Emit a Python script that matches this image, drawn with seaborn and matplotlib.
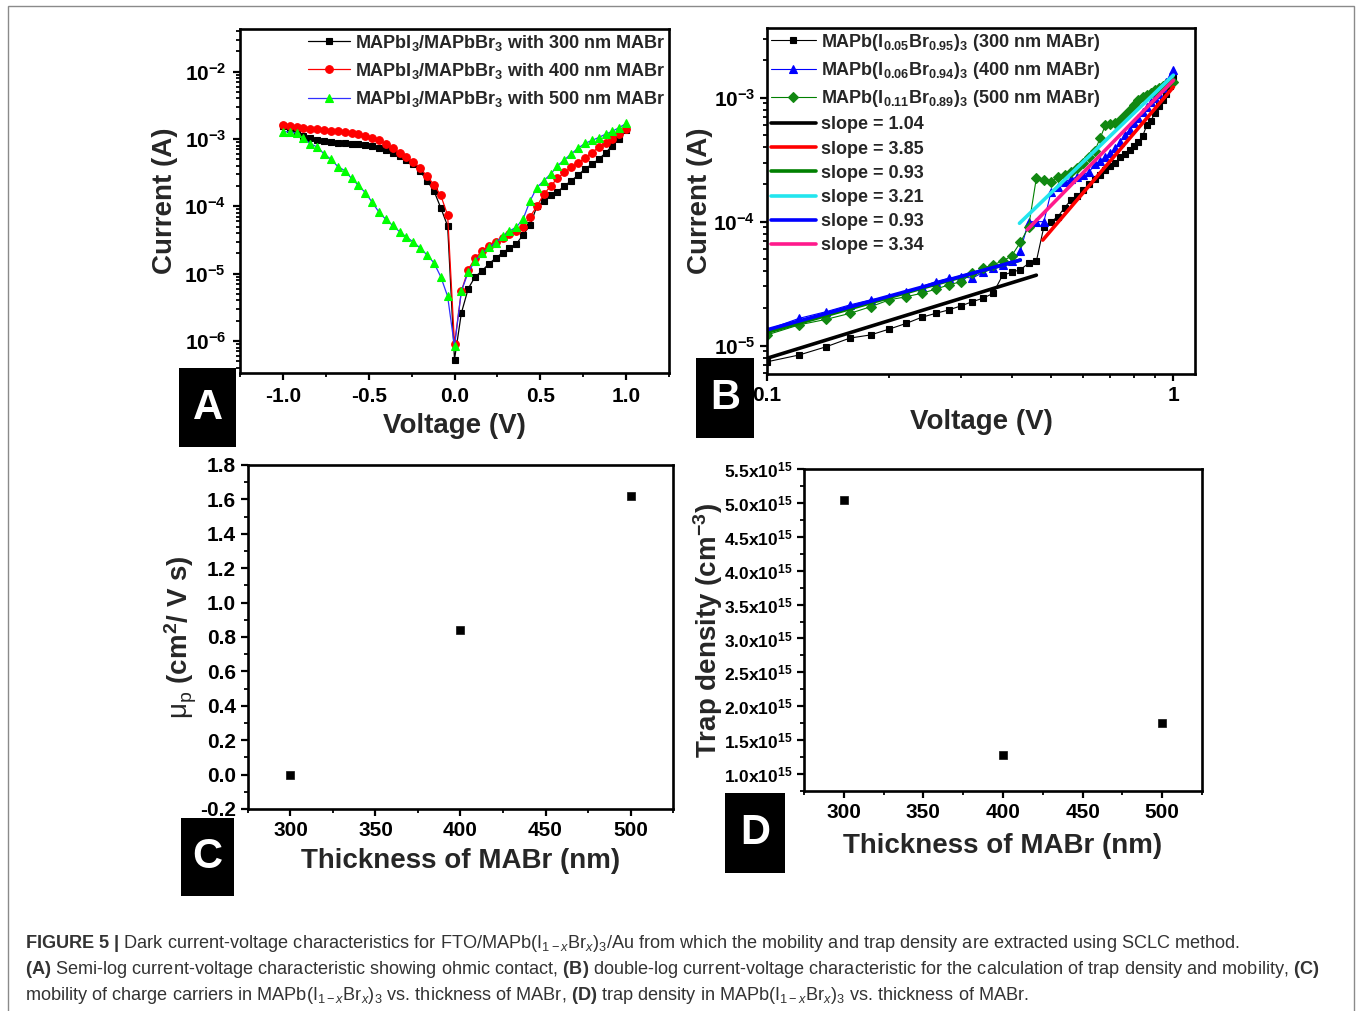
import matplotlib
matplotlib.use("Agg")
import matplotlib.pyplot as plt
import seaborn as sns
from matplotlib.ticker import LogLocator, NullFormatter, MultipleLocator
from matplotlib.patches import Rectangle

# ---------------- Panel A data (semi-log I-V) ----------------
voltage_a = [-1.00, -0.96, -0.92, -0.88, -0.84, -0.80, -0.76, -0.72, -0.68, -0.64,
             -0.60, -0.56, -0.52, -0.48, -0.44, -0.40, -0.36, -0.32, -0.28, -0.24,
             -0.20, -0.16, -0.12, -0.08, -0.04, 0.00, 0.04, 0.08, 0.12, 0.16,
             0.20, 0.24, 0.28, 0.32, 0.36, 0.40, 0.44, 0.48, 0.52, 0.56,
             0.60, 0.64, 0.68, 0.72, 0.76, 0.80, 0.84, 0.88, 0.92, 0.96, 1.00]
current_a_300 = [1.55e-3, 1.40e-3, 1.25e-3, 1.12e-3, 1.02e-3, 9.6e-4, 9.2e-4, 8.9e-4, 8.7e-4, 8.6e-4,
                 8.5e-4, 8.4e-4, 8.2e-4, 7.9e-4, 7.4e-4, 6.9e-4, 6.3e-4, 5.6e-4, 4.9e-4, 4.2e-4,
                 3.3e-4, 2.4e-4, 1.7e-4, 9.5e-5, 5.1e-5, 5.3e-7, 2.6e-6, 6.0e-6, 9.0e-6, 1.1e-5,
                 1.4e-5, 1.7e-5, 2.05e-5, 2.4e-5, 2.75e-5, 3.8e-5, 5.2e-5, 1.0e-4, 1.2e-4, 1.45e-4,
                 1.65e-4, 2.0e-4, 2.4e-4, 2.9e-4, 3.6e-4, 4.2e-4, 5.0e-4, 6.2e-4, 8.0e-4, 1.0e-3, 1.35e-3]
current_a_400 = [1.6e-3, 1.55e-3, 1.5e-3, 1.47e-3, 1.43e-3, 1.4e-3, 1.37e-3, 1.33e-3, 1.3e-3, 1.27e-3,
                 1.22e-3, 1.17e-3, 1.12e-3, 1.05e-3, 9.5e-4, 8.5e-4, 7.4e-4, 6.3e-4, 5.4e-4, 4.6e-4,
                 3.7e-4, 2.8e-4, 2.1e-4, 1.45e-4, 7.4e-5, 9.0e-7, 5.5e-6, 1.15e-5, 1.7e-5, 2.15e-5,
                 2.6e-5, 3.0e-5, 3.4e-5, 3.9e-5, 4.3e-5, 5.0e-5, 7.0e-5, 1.0e-4, 1.5e-4, 2.0e-4,
                 2.6e-4, 3.2e-4, 3.8e-4, 4.4e-4, 5.2e-4, 6.3e-4, 7.5e-4, 8.6e-4, 1.0e-3, 1.2e-3, 1.4e-3]
current_a_500 = [1.28e-3, 1.28e-3, 1.22e-3, 1.02e-3, 8.5e-4, 7.6e-4, 6.0e-4, 5.0e-4, 3.9e-4, 3.4e-4,
                 2.6e-4, 2.05e-4, 1.6e-4, 1.15e-4, 8.2e-5, 6.4e-5, 5.2e-5, 4.2e-5, 3.5e-5, 2.95e-5,
                 2.4e-5, 1.9e-5, 1.45e-5, 9.0e-6, 4.6e-6, 8.3e-7, 5.5e-6, 1.05e-5, 1.55e-5, 2.0e-5,
                 2.45e-5, 2.9e-5, 3.6e-5, 4.3e-5, 4.9e-5, 6.5e-5, 1.2e-4, 1.9e-4, 2.4e-4, 3.0e-4,
                 4.0e-4, 4.9e-4, 6.0e-4, 7.3e-4, 8.6e-4, 9.5e-4, 1.05e-3, 1.18e-3, 1.3e-3, 1.48e-3, 1.7e-3]
labels_a = [r"MAPbI$_3$/MAPbBr$_3$ with 300 nm MABr",
            r"MAPbI$_3$/MAPbBr$_3$ with 400 nm MABr",
            r"MAPbI$_3$/MAPbBr$_3$ with 500 nm MABr"]

# ---------------- Panel B data (double-log I-V) ----------------
voltage_b = [0.10, 0.12, 0.14, 0.16, 0.18, 0.20, 0.22, 0.24, 0.26, 0.28,
             0.30, 0.32, 0.34, 0.36, 0.38, 0.40, 0.42, 0.44, 0.46, 0.48,
             0.50, 0.52, 0.54, 0.56, 0.58, 0.60, 0.62, 0.64, 0.66, 0.68,
             0.70, 0.72, 0.74, 0.76, 0.78, 0.80, 0.82, 0.84, 0.86, 0.88,
             0.90, 0.92, 0.94, 0.96, 0.98, 1.00]
current_b_300 = [7.4e-6, 8.4e-6, 9.8e-6, 1.15e-5, 1.22e-5, 1.36e-5, 1.51e-5, 1.69e-5, 1.82e-5, 1.94e-5,
                 2.09e-5, 2.26e-5, 2.41e-5, 2.64e-5, 3.7e-5, 3.9e-5, 4.1e-5, 4.6e-5, 4.8e-5, 9.1e-5,
                 1.0e-4, 1.1e-4, 1.3e-4, 1.5e-4, 1.6e-4, 1.8e-4, 2.0e-4, 2.2e-4, 2.4e-4, 2.6e-4,
                 2.8e-4, 3.0e-4, 3.3e-4, 3.5e-4, 3.8e-4, 4.1e-4, 4.4e-4, 4.9e-4, 6.0e-4, 6.5e-4,
                 7.5e-4, 8.5e-4, 9.5e-4, 1.08e-3, 1.25e-3, 1.45e-3]
current_b_400 = [1.34e-5, 1.66e-5, 1.88e-5, 2.13e-5, 2.34e-5, 2.48e-5, 2.72e-5, 2.99e-5, 3.28e-5, 3.5e-5,
                 3.6e-5, 3.5e-5, 3.9e-5, 4.2e-5, 4.5e-5, 4.8e-5, 5.8e-5, 1.0e-4, 1.0e-4, 1.0e-4,
                 1.74e-4, 1.9e-4, 2.1e-4, 2.2e-4, 2.3e-4, 2.4e-4, 2.5e-4, 2.9e-4, 3.1e-4, 3.3e-4,
                 3.6e-4, 3.9e-4, 4.4e-4, 5.0e-4, 5.5e-4, 6.2e-4, 6.9e-4, 7.6e-4, 8.4e-4, 9.2e-4,
                 1.0e-3, 1.08e-3, 1.2e-3, 1.33e-3, 1.47e-3, 1.67e-3]
current_b_500 = [1.22e-5, 1.47e-5, 1.63e-5, 1.82e-5, 2.06e-5, 2.34e-5, 2.48e-5, 2.64e-5, 2.85e-5, 3.09e-5,
                 3.28e-5, 3.84e-5, 4.2e-5, 4.5e-5, 4.8e-5, 5.3e-5, 6.8e-5, 9.0e-5, 2.25e-4, 2.15e-4,
                 2.1e-4, 2.3e-4, 2.4e-4, 2.5e-4, 2.7e-4, 3.0e-4, 3.3e-4, 3.7e-4, 4.7e-4, 6.0e-4,
                 6.1e-4, 6.2e-4, 6.6e-4, 7.2e-4, 8.0e-4, 8.7e-4, 9.5e-4, 1.02e-3, 1.05e-3, 1.1e-3,
                 1.15e-3, 1.2e-3, 1.25e-3, 1.3e-3, 1.33e-3, 1.35e-3]
labels_b = [r"MAPb(I$_{0.05}$Br$_{0.95}$)$_3$ (300 nm MABr)",
            r"MAPb(I$_{0.06}$Br$_{0.94}$)$_3$ (400 nm MABr)",
            r"MAPb(I$_{0.11}$Br$_{0.89}$)$_3$ (500 nm MABr)"]

# SCLC fit lines (end points)
fit_labels = ["slope = 1.04", "slope = 3.85", "slope = 0.93",
              "slope = 3.21", "slope = 0.93", "slope = 3.34"]
fit_v_start = [0.10, 0.477, 0.10, 0.418, 0.10, 0.437]
fit_v_end = [0.46, 1.00, 0.42, 1.00, 0.42, 1.00]
fit_i_start = [7.9e-6, 7.1e-5, 1.28e-5, 9.7e-5, 1.34e-5, 8.6e-5]
fit_i_end = [3.7e-5, 1.22e-3, 4.9e-5, 1.52e-3, 4.9e-5, 1.38e-3]
fit_colors = ["#000000", "#FF0000", "#008000", "#22E5EE", "#0000FF", "#FF1A8C"]

# ---------------- Panels C and D ----------------
thickness = [300, 400, 500]
mobility = [0.0, 0.84, 1.62]
trap_density = [5.05e15, 1.28e15, 1.76e15]

# ---------------- style ----------------
sns.set_style("ticks")
plt.rcParams.update({
    "font.family": ["Liberation Sans", "DejaVu Sans"],
    "font.weight": "bold",
    "axes.labelweight": "bold",
    "mathtext.fontset": "custom",
    "mathtext.rm": "Liberation Sans:normal",
    "mathtext.it": "Liberation Sans:italic:normal",
    "mathtext.bf": "Liberation Sans:bold",
    "mathtext.default": "bf",
    "axes.unicode_minus": False,
    "axes.linewidth": 1.9,
    "axes.edgecolor": "black",
    "xtick.direction": "out",
    "ytick.direction": "out",
    "xtick.major.size": 5, "ytick.major.size": 5,
    "xtick.minor.size": 3, "ytick.minor.size": 3,
    "xtick.major.width": 1.6, "ytick.major.width": 1.6,
    "xtick.minor.width": 1.3, "ytick.minor.width": 1.3,
    "xtick.color": "black", "ytick.color": "black",
})

W, H = 1357, 1011
fig = plt.figure(figsize=(W / 100, H / 100), dpi=100)


def ax_at(l, t, r, b):
    return fig.add_axes([l / W, 1 - b / H, (r - l) / W, (b - t) / H])


TICK_FS = 15
LABEL_FS = 20
LEG_FS = 13

# ---------------- Panel A ----------------
axA = ax_at(240, 29, 669, 373)
axA.set_yscale("log")
styles_a = [
    dict(color="black", marker="s", markerfacecolor="black", markeredgecolor="black", markersize=5),
    dict(color="red", marker="o", markerfacecolor="red", markeredgecolor="red", markersize=5.5),
    dict(color="#3030FF", marker="^", markerfacecolor="#00FF00", markeredgecolor="#00FF00", markersize=6),
]
handles_a = []
for cur, lab, st in zip([current_a_300, current_a_400, current_a_500], labels_a, styles_a):
    sns.lineplot(x=voltage_a, y=cur, ax=axA, linewidth=0.9, markeredgewidth=0.8,
                 estimator=None, sort=False, label=lab, legend=False, **st)
    handles_a.append(axA.lines[-1])
axA.set_xlim(-1.25, 1.25)
axA.set_ylim(3.35e-7, 4.3e-2)
axA.set_xticks([-1.0, -0.5, 0.0, 0.5, 1.0])
axA.set_xticklabels(["-1.0", "-0.5", "0.0", "0.5", "1.0"])
axA.xaxis.set_minor_locator(MultipleLocator(0.25))
axA.yaxis.set_major_locator(LogLocator(base=10, numticks=20))
axA.yaxis.set_minor_locator(LogLocator(base=10, subs=range(2, 10), numticks=20))
axA.yaxis.set_minor_formatter(NullFormatter())
axA.set_xlabel("Voltage (V)", fontsize=LABEL_FS, labelpad=5)
axA.set_ylabel("Current (A)", fontsize=LABEL_FS, labelpad=4)
axA.tick_params(labelsize=TICK_FS, pad=5)
axA.legend(handles=handles_a, labels=labels_a, loc="upper right", bbox_to_anchor=(1.0, 1.0),
           frameon=False, handlelength=2.3, handletextpad=0.3,
           labelspacing=0.45, borderaxespad=0.1, borderpad=0.1,
           prop={"weight": "bold", "size": LEG_FS})

# ---------------- Panel B ----------------
axB = ax_at(767, 28, 1195, 374)
axB.set_xscale("log")
axB.set_yscale("log")
styles_b = [
    dict(color="black", marker="s", markerfacecolor="black", markeredgecolor="black", markersize=5),
    dict(color="#0000FF", marker="^", markerfacecolor="#0000FF", markeredgecolor="#0000FF", markersize=6),
    dict(color="#008000", marker="D", markerfacecolor="#118811", markeredgecolor="#118811", markersize=5),
]
handles_b = []
for cur, lab, st in zip([current_b_300, current_b_400, current_b_500], labels_b, styles_b):
    sns.lineplot(x=voltage_b, y=cur, ax=axB, linewidth=0.8, markeredgewidth=0.8,
                 estimator=None, sort=False, label=lab, legend=False, **st)
    handles_b.append(axB.lines[-1])
for v0, v1, i0, i1, col, lab in zip(fit_v_start, fit_v_end, fit_i_start, fit_i_end, fit_colors, fit_labels):
    sns.lineplot(x=[v0, v1], y=[i0, i1], ax=axB, color=col, linewidth=2.6,
                 estimator=None, sort=False, label=lab, legend=False)
    handles_b.append(axB.lines[-1])
axB.set_xlim(0.1, 1.13)
axB.set_ylim(5.9e-6, 3.65e-3)
axB.set_xticks([0.1, 1.0])
axB.set_xticklabels(["0.1", "1"])
axB.xaxis.set_minor_locator(LogLocator(base=10, subs=range(2, 10), numticks=20))
axB.xaxis.set_minor_formatter(NullFormatter())
axB.yaxis.set_major_locator(LogLocator(base=10, numticks=20))
axB.yaxis.set_minor_locator(LogLocator(base=10, subs=range(2, 10), numticks=20))
axB.yaxis.set_minor_formatter(NullFormatter())
axB.set_xlabel("Voltage (V)", fontsize=LABEL_FS, labelpad=3)
axB.set_ylabel("Current (A)", fontsize=LABEL_FS, labelpad=0)
axB.tick_params(labelsize=TICK_FS)
axB.legend(handles=handles_b, labels=labels_b + fit_labels, loc="upper left",
           bbox_to_anchor=(0.0, 1.0), frameon=False, handlelength=2.5, handletextpad=0.3,
           labelspacing=0.40, borderaxespad=0.1, borderpad=0.1,
           prop={"weight": "bold", "size": LEG_FS})

# ---------------- Panel C ----------------
axC = ax_at(248, 465, 673, 809)
sns.scatterplot(x=thickness, y=mobility, ax=axC, marker="s", color="black",
                edgecolor="black", s=30, legend=False)
axC.set_xlim(275, 525)
axC.set_ylim(-0.2, 1.8)
axC.set_xticks([300, 350, 400, 450, 500])
axC.set_xticklabels(["300", "350", "400", "450", "500"])
axC.xaxis.set_minor_locator(MultipleLocator(25))
yC = [-0.2, 0.0, 0.2, 0.4, 0.6, 0.8, 1.0, 1.2, 1.4, 1.6, 1.8]
axC.set_yticks(yC)
axC.set_yticklabels([f"{v:.1f}" for v in yC])
axC.yaxis.set_minor_locator(MultipleLocator(0.1))
axC.set_xlabel("Thickness of MABr (nm)", fontsize=LABEL_FS, labelpad=6)
axC.set_ylabel(r"$\mathrm{\mu_p}$ (cm$^2$/ V s)", fontsize=LABEL_FS, labelpad=1)
axC.tick_params(labelsize=TICK_FS)

# ---------------- Panel D ----------------
axD = ax_at(804, 469, 1202, 791)
sns.scatterplot(x=thickness, y=trap_density, ax=axD, marker="s", color="black",
                edgecolor="black", s=30, legend=False)
axD.set_xlim(275, 525)
axD.set_ylim(0.75e15, 5.5e15)
axD.set_xticks([300, 350, 400, 450, 500])
axD.set_xticklabels(["300", "350", "400", "450", "500"])
axD.xaxis.set_minor_locator(MultipleLocator(25))
yD = [1.0, 1.5, 2.0, 2.5, 3.0, 3.5, 4.0, 4.5, 5.0, 5.5]
axD.set_yticks([v * 1e15 for v in yD])
axD.set_yticklabels([f"${v:.1f}$x10$^{{15}}$" for v in yD])
axD.yaxis.set_minor_locator(MultipleLocator(0.25e15))
axD.set_xlabel("Thickness of MABr (nm)", fontsize=LABEL_FS, labelpad=8)
axD.set_ylabel(r"Trap density (cm$^{-3}$)", fontsize=LABEL_FS, labelpad=-1)
axD.tick_params(axis="x", labelsize=TICK_FS)
axD.tick_params(axis="y", labelsize=12.5)

for ax in (axA, axB, axC, axD):
    ax.tick_params(which="both", top=False, right=False)
    for s in ax.spines.values():
        s.set_visible(True)
        s.set_linewidth(1.9)


# ---------------- panel letter boxes ----------------
def panel_label(letter, x0, y0, x1, y1):
    fig.patches.append(Rectangle((x0 / W, 1 - y1 / H), (x1 - x0) / W, (y1 - y0) / H,
                                 transform=fig.transFigure, facecolor="black",
                                 edgecolor="none", zorder=5))
    fig.text((x0 + x1) / 2 / W, 1 - (y0 + y1) / 2 / H, letter, color="white",
             fontsize=30, fontweight="bold", ha="center", va="center", zorder=6)


panel_label("A", 179, 368, 236, 447)
panel_label("B", 696, 358, 754, 438)
panel_label("C", 181, 818, 234, 896)
panel_label("D", 725, 793, 785, 873)

# ---------------- outer frame ----------------
fig.patches.append(Rectangle((8 / W, -10 / H), (1354 - 8) / W, (H + 10 - 6) / H,
                             transform=fig.transFigure, facecolor="none",
                             edgecolor="#8a8a8a", linewidth=1.0, zorder=1))

# ---------------- caption ----------------
frac = r"MAPb(I$_{\mathrm{1-}\mathit{x}}$Br$_{\mathit{x}}$)$_{\mathrm{3}}$"
cap1 = (r"$\mathbf{FIGURE\ 5\ |}$ Dark current-voltage characteristics for FTO/" + frac +
        "/Au from which the mobility and trap density are extracted using SCLC method.")
cap2 = (r"$\mathbf{(A)}$ Semi-log current-voltage characteristic showing ohmic contact, "
        r"$\mathbf{(B)}$ double-log current-voltage characteristic for the calculation of "
        r"trap density and mobility, $\mathbf{(C)}$")
cap3 = ("mobility of charge carriers in " + frac + r" vs. thickness of MABr, $\mathbf{(D)}$ "
        "trap density in " + frac + " vs. thickness of MABr.")
for yy, txt in zip([943, 969, 995], [cap1, cap2, cap3]):
    fig.text(25 / W, 1 - yy / H, txt, fontsize=13.1, fontweight="normal", color="#333333",
             ha="left", va="center")

fig.savefig("out.png", dpi=100)
